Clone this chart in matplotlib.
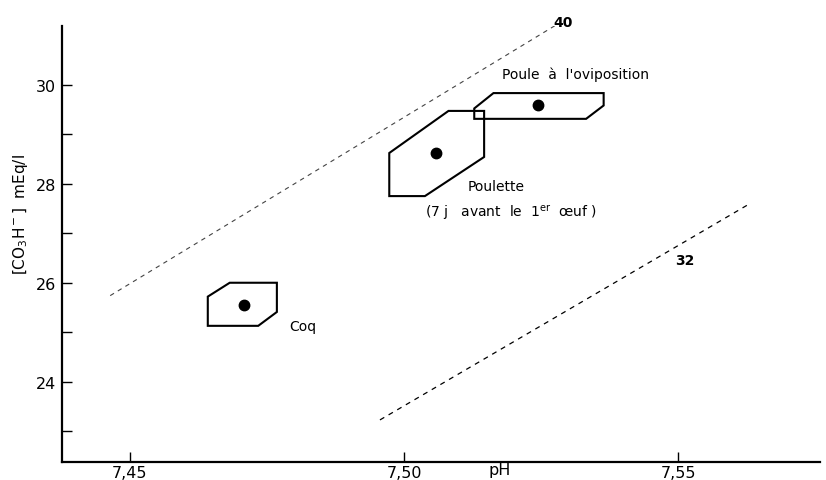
import matplotlib.pyplot as plt
from matplotlib.patches import Polygon

# pH / bicarbonate domains (hexagon outline + mean point)
coq_ph = [7.4642, 7.4682, 7.4768, 7.4768, 7.4734, 7.4642]
coq_hco3 = [25.72, 26.00, 26.00, 25.41, 25.13, 25.13]
coq_mean = (7.4708, 25.56)

poulette_ph = [7.4973, 7.5081, 7.5146, 7.5146, 7.5038, 7.4973]
poulette_hco3 = [28.62, 29.47, 29.47, 28.54, 27.75, 27.75]
poulette_mean = (7.5058, 28.62)

poule_ph = [7.5128, 7.5163, 7.5364, 7.5364, 7.5332, 7.5128]
poule_hco3 = [29.52, 29.83, 29.83, 29.58, 29.31, 29.31]
poule_mean = (7.5245, 29.58)

# PCO2 isopleths (mmHg)
iso40_ph = [7.4464, 7.5327]
iso40_hco3 = [25.74, 31.54]
iso32_ph = [7.4956, 7.5631]
iso32_hco3 = [23.23, 27.60]

x_ticks = [7.45, 7.50, 7.55]
x_labels = ['7,45', '7,50', '7,55']
y_major = [24, 26, 28, 30]
y_minor = [23, 25, 27, 29]

plt.rcParams['font.family'] = ['DejaVu Sans']

fig = plt.figure(figsize=(8.26, 4.81), dpi=100)
ax = fig.add_axes([0.075, 0.0374, 0.918, 0.907])
ax.set_xlim(7.4376, 7.5759)
ax.set_ylim(22.38, 31.19)

for s in ['top', 'right']:
    ax.spines[s].set_visible(False)
for s in ['left', 'bottom']:
    ax.spines[s].set_linewidth(1.6)

ax.set_xticks(x_ticks)
ax.set_xticklabels(x_labels)
ax.set_yticks(y_major)
ax.set_yticks(y_minor, minor=True)
ax.tick_params(axis='both', which='both', direction='in', length=7,
               width=1.0, labelsize=11.5, pad=4)
ax.tick_params(axis='x', pad=2)

ax.plot(iso40_ph, iso40_hco3, color='#444444', lw=0.8, dashes=(4, 4))
ax.plot(iso32_ph, iso32_hco3, color='black', lw=0.9, dashes=(4, 4))
ax.text(7.5272, 31.26, '40', fontsize=10, fontweight='bold', va='center')
ax.text(7.5495, 26.46, '32', fontsize=10, fontweight='bold', va='center')

for px, py, (mx, my) in [(coq_ph, coq_hco3, coq_mean),
                         (poulette_ph, poulette_hco3, poulette_mean),
                         (poule_ph, poule_hco3, poule_mean)]:
    ax.add_patch(Polygon(list(zip(px, py)), closed=True, fill=False,
                         edgecolor='black', lw=1.5, joinstyle='miter'))
    ax.plot(mx, my, 'o', color='black', ms=7.5)

ax.text(7.4790, 25.13, 'Coq', fontsize=10, va='center')
ax.text(7.5115, 27.96, 'Poulette', fontsize=10, va='center')
ax.text(7.5038, 27.43, r'(7 j   avant  le  $\mathrm{1^{er}}$  œuf )',
        fontsize=10, va='center')
ax.text(7.5179, 30.22, "Poule  à  l'oviposition", fontsize=10, va='center')

ax.text(7.5175, 22.38, 'pH', fontsize=11.5, ha='center', va='top')
ax.set_ylabel(r'$\left[\mathrm{CO_3H^-}\right]$  mEq/l', fontsize=11)
ax.yaxis.set_label_coords(-0.042, 0.57)

fig.savefig('out.png', dpi=100)
